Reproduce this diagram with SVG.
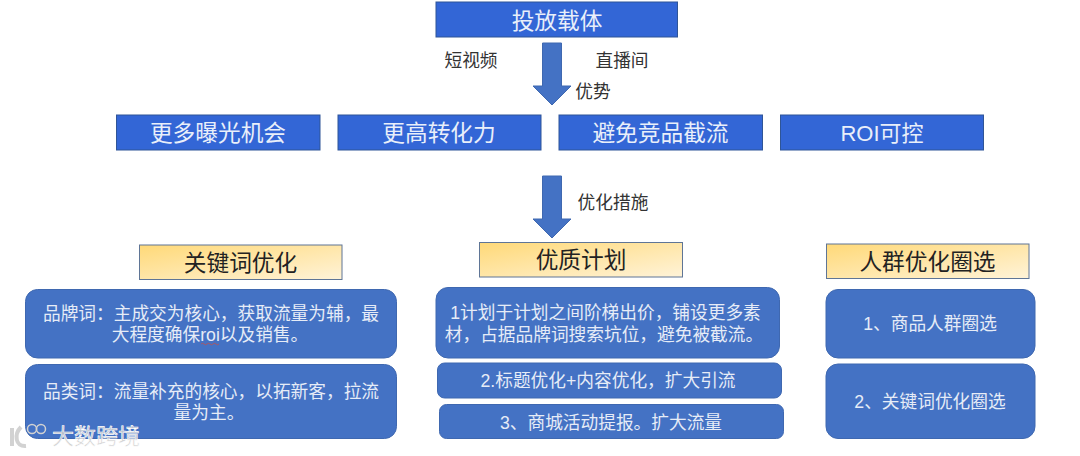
<svg xmlns="http://www.w3.org/2000/svg" width="1080" height="456" viewBox="0 0 1080 456">
<style>
text{font-family:"Liberation Sans","Noto Sans CJK SC",sans-serif;text-anchor:middle}
.hb{fill:#3366d6;stroke:#2f5597;stroke-width:1}
.gb{fill:url(#gold);stroke:#5f7596;stroke-width:1}
.rb{fill:#4472c4;stroke:#3f68b0;stroke-width:1}
.ar{fill:#4472c4;stroke:#3f68b0;stroke-width:1}
.ht{fill:#e9effa;font-size:22.700px}
.gt{fill:#222;font-size:22.700px}
.rt{fill:#e6ecf7;font-size:17.700px}
.lb{fill:#333;font-size:17.700px}
.wm{fill:#c9c9c9;fill-opacity:.85;stroke:#fff;stroke-width:.6}
</style>
<defs>
<linearGradient id="gold" x1="0" y1="0" x2="1" y2="1">
<stop offset="0" stop-color="#ffd978"/><stop offset="1" stop-color="#fff3d8"/>
</linearGradient>
</defs>
<rect width="1080" height="456" fill="#fff"/>
<g id="connectors">
<path class="ar" d="M542.500 43H561.500V86H571L552 105L533 86H542.500Z"/>
<path class="ar" d="M542.500 176H561.500V219H571L552 238L533 219H542.500Z"/>
</g>
<g id="carrier"><rect class="hb" x="436" y="2" width="241.500" height="35"/><text class="ht" x="557" y="28.500">投放载体</text></g>
<g id="label-video"><text class="lb" x="471" y="66.500">短视频</text></g>
<g id="label-live"><text class="lb" x="622" y="66.500">直播间</text></g>
<g id="label-advantage"><text class="lb" x="593" y="98">优势</text></g>
<g id="label-measures"><text class="lb" x="613" y="209">优化措施</text></g>
<g id="adv-1"><rect class="hb" x="116.500" y="115" width="203.500" height="35"/><text class="ht" x="218" y="141">更多曝光机会</text></g>
<g id="adv-2"><rect class="hb" x="338" y="115" width="203" height="35"/><text class="ht" x="439" y="141">更高转化力</text></g>
<g id="adv-3"><rect class="hb" x="559" y="115" width="203.500" height="35"/><text class="ht" x="660.500" y="141">避免竞品截流</text></g>
<g id="adv-4"><rect class="hb" x="780.500" y="115" width="203" height="35"/><text class="ht" x="882" y="141" font-size="22" style="font-size:22px">ROI可控</text></g>
<g id="head-keyword"><rect class="gb" x="139.500" y="245" width="202.500" height="34.500"/><text class="gt" x="240.500" y="271">关键词优化</text></g>
<g id="head-plan"><rect class="gb" x="479.500" y="242.500" width="203" height="34.500"/><text class="gt" x="581" y="268">优质计划</text></g>
<g id="head-crowd"><rect class="gb" x="826.500" y="244" width="202.500" height="34.500"/><text class="gt" x="927.500" y="269.500">人群优化圈选</text></g>
<g id="kw-brand"><rect class="rb" x="25.500" y="289.500" width="371" height="68.500" rx="12"/><text class="rt" x="211" y="320">品牌词：主成交为核心，获取流量为辅，最</text><text class="rt" x="210" y="341">大程度确保roi以及销售。</text><path d="M201 344q1.500-1.500 3 0t3 0t3 0t3 0t3 0t3 0" fill="none" stroke="#c0504d" stroke-width=".8"/></g>
<g id="kw-category"><rect class="rb" x="25.500" y="364.500" width="371" height="74" rx="12"/><text class="rt" x="211" y="398">品类词：流量补充的核心，以拓新客，拉流</text><text class="rt" x="209" y="419">量为主。</text></g>
<g id="plan-1"><rect class="rb" x="436" y="287.500" width="343.500" height="70.500" rx="12"/><text class="rt" x="605.500" y="319">1计划于计划之间阶梯出价，铺设更多素</text><text class="rt" x="604" y="341">材，占据品牌词搜索坑位，避免被截流。</text></g>
<g id="plan-2"><rect class="rb" x="437.500" y="363" width="344" height="35" rx="7"/><text class="rt" x="608" y="387">2.标题优化+内容优化，扩大引流</text></g>
<g id="plan-3"><rect class="rb" x="439.500" y="404.500" width="344" height="34" rx="7"/><text class="rt" x="611" y="428.500">3、商城活动提报。扩大流量</text></g>
<g id="crowd-1"><rect class="rb" x="826" y="289.500" width="209" height="68.500" rx="12"/><text class="rt" x="930" y="330">1、商品人群圈选</text></g>
<g id="crowd-2"><rect class="rb" x="826" y="364" width="209" height="74.500" rx="12"/><text class="rt" x="930" y="408">2、关键词优化圈选</text></g>
<g id="watermark">
<path d="M12 428V446M21 427C14 434 15 447 26 446" fill="none" stroke="#d2d2d2" stroke-width="4"/>
<circle cx="32" cy="429" r="4.500" fill="none" stroke="#d2d2d2" stroke-width="1.500"/><circle cx="41" cy="429" r="4.500" fill="none" stroke="#d2d2d2" stroke-width="1.500"/>
<text class="wm" x="96" y="444" style="font-size:22px">大数跨境</text>
</g>
</svg>
